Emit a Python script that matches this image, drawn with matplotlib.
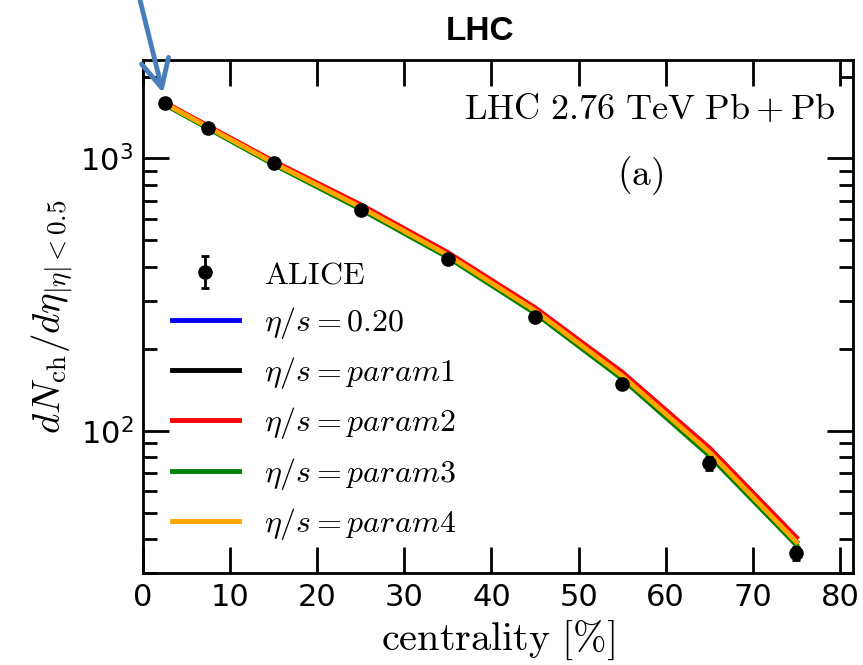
import numpy as np
import matplotlib
matplotlib.use("Agg")
import matplotlib.pyplot as plt

plt.rcParams['mathtext.fontset'] = 'cm'
plt.rcParams['font.family'] = ['DejaVu Sans']

# centrality bin centres [%]
cent = [2.5, 7.5, 15, 25, 35, 45, 55, 65, 75]

# ALICE charged multiplicity, Pb+Pb 2.76 TeV
alice = [1601, 1294, 966, 649, 426, 261, 149, 76, 35.5]
alice_err = [60, 50, 37, 23, 15, 9, 6, 4, 2]

# hydro results for different eta/s choices
eta020 = [1592, 1302, 962, 662, 441, 276, 159, 83.5, 39.0]
param1 = [1592, 1302, 962, 662, 441, 276, 159, 83.5, 39.0]
param2 = [1605, 1315, 976, 676, 451, 283, 164, 86.5, 40.5]
param3 = [1578, 1288, 950, 650, 433, 270, 155, 81.0, 38.0]
param4 = [1592, 1302, 962, 662, 441, 276, 159, 83.5, 39.0]

fig = plt.figure(figsize=(8.63, 6.65), dpi=100)
ax = fig.add_axes([143/863, 1-573/665, 710/863, 513/665])

lw = 3.5
ax.plot(cent, eta020, color='blue', lw=lw, label=r'$\eta/s=0.20$')
ax.plot(cent, param1, color='black', lw=lw, label=r'$\eta/s=param1$')
ax.plot(cent, param2, color='red', lw=lw, label=r'$\eta/s=param2$')
ax.plot(cent, param3, color='green', lw=lw, label=r'$\eta/s=param3$')
ax.plot(cent, param4, color='orange', lw=lw, label=r'$\eta/s=param4$')
ax.errorbar(cent, alice, yerr=alice_err, fmt='o', color='black', ms=9.5,
            elinewidth=2, capsize=3, capthick=2, label=r'$\mathrm{ALICE}$', zorder=5)

ax.set_yscale('log')
ax.set_xlim(0, 81.5)
ax.set_ylim(30, 2300)
ax.set_xticks(np.arange(0, 81, 10))

ax.tick_params(which='both', direction='in', top=True, right=True, width=2, labelsize=22)
ax.tick_params(which='major', length=19, pad=7)
ax.tick_params(which='minor', length=10)
for s in ax.spines.values():
    s.set_linewidth(2)

ax.set_xlabel(r'$\mathrm{centrality}\ [\%]$', fontsize=29, labelpad=5)
ax.set_ylabel(r'$dN_{\rm ch}/d\eta_{|\eta|<0.5}$', fontsize=28, labelpad=4)

ax.text(0.975, 0.905, r'$\mathrm{LHC\ 2.76\ TeV\ Pb+Pb}$', transform=ax.transAxes,
        ha='right', va='center', fontsize=26)
ax.text(0.70, 0.775, r'$\mathrm{(a)}$', transform=ax.transAxes,
        ha='center', va='center', fontsize=27)

h, l = ax.get_legend_handles_labels()
order = [5, 0, 1, 2, 3, 4]
ax.legend([h[i] for i in order], [l[i] for i in order], loc='lower left',
          bbox_to_anchor=(0.0, 0.004), frameon=False, fontsize=23,
          handlelength=2.1, labelspacing=0.45, handletextpad=0.8)

fig.text(480/863, 1-31/665, 'LHC', ha='center', va='center',
         fontsize=24, fontweight='bold', family='Liberation Sans')

# blue pointer to the most central point
fig.add_artist(matplotlib.patches.FancyArrowPatch(
    (140/863, 1.0), (163/863, 1-93/665), transform=fig.transFigure,
    arrowstyle='->,head_length=10,head_width=5', color='#4a7ebb', lw=3.5,
    mutation_scale=2, shrinkA=0, shrinkB=0))

fig.savefig('out.png', dpi=100)
